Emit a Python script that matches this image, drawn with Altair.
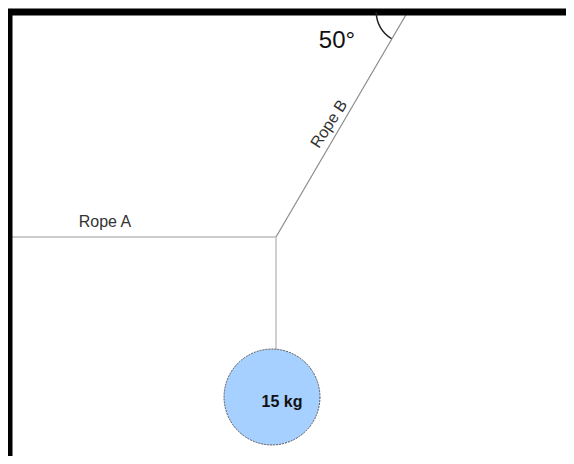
import altair as alt
import pandas as pd

# Diagram geometry (in picture pixel coordinates)
wall_top = {"x": [8], "x2": [566], "y": [12]}
wall_left = {"x": [9], "y": [12], "y2": [456]}
ropes = {
    "name": ["Rope A", "Rope B", "Hanger"],
    "x": [10, 276, 276],
    "y": [237, 237, 237],
    "x2": [276, 407, 276],
    "y2": [237, 13, 350],
}
rope_colors = ["#9a9a9a", "#8a8a8a", "#cfcfcf"]
rope_widths = [1.2, 1.2, 2]
mass_x = [272]
mass_y = [397]
mass_label = ["15 kg"]
labels = {"text": ["Rope A", "Rope B"], "x": [105, 329], "y": [222, 124], "angle": [0, 303]}
angle_text = {"text": ["50°"], "x": [337], "y": [41]}
angle_arc = {"x": [407], "y": [12], "t1": [3.67], "t2": [4.712]}

W, H = 558, 448
xs = alt.Scale(domain=[8, 8 + W], range=[0, W], nice=False, zero=False)
ys = alt.Scale(domain=[8, 8 + H], range=[0, H], nice=False, zero=False)

def X(f="x"):
    return alt.X(f"{f}:Q", scale=xs, axis=None)

def Y(f="y"):
    return alt.Y(f"{f}:Q", scale=ys, axis=None)

top = alt.Chart(pd.DataFrame(wall_top)).mark_rule(color="black", strokeWidth=7).encode(
    x=X(), x2="x2:Q", y=Y())
left = alt.Chart(pd.DataFrame(wall_left)).mark_rule(color="black", strokeWidth=7).encode(
    x=X(), y=Y(), y2="y2:Q")

rdf = pd.DataFrame(ropes)
rope_layers = []
for i in range(len(rdf)):
    rope_layers.append(
        alt.Chart(rdf.iloc[[i]]).mark_rule(color=rope_colors[i], strokeWidth=rope_widths[i]).encode(
            x=X(), y=Y(), x2="x2:Q", y2="y2:Q")
    )

mass = alt.Chart(pd.DataFrame({"x": mass_x, "y": mass_y})).mark_point(
    shape="circle", size=9200, filled=True, fill="#a6d0ff", fillOpacity=1,
    stroke="#555555", strokeWidth=1, strokeDash=[2, 1]).encode(x=X(), y=Y())

mass_text = alt.Chart(pd.DataFrame({"x": [282], "y": [402], "t": mass_label})).mark_text(
    font="Liberation Sans", fontSize=16, fontWeight="bold", color="#111111",
    align="center", baseline="middle").encode(x=X(), y=Y(), text="t:N")

ldf = pd.DataFrame(labels)
label_layers = []
for i in range(len(ldf)):
    label_layers.append(
        alt.Chart(ldf.iloc[[i]]).mark_text(
            font="Liberation Sans", fontSize=16, color="#333333", align="center",
            baseline="middle", angle=int(ldf["angle"][i])).encode(x=X(), y=Y(), text="text:N")
    )

ang = alt.Chart(pd.DataFrame(angle_text)).mark_text(
    font="Liberation Sans", fontSize=24, color="#111111", align="center",
    baseline="middle").encode(x=X(), y=Y(), text="text:N")

arc = alt.Chart(pd.DataFrame(angle_arc)).mark_arc(
    radius=31.5, radius2=30, color="#222222",
    theta=angle_arc["t1"][0], theta2=angle_arc["t2"][0]).encode(x=X(), y=Y())

chart = alt.layer(
    *rope_layers, top, left, arc, mass, mass_text, *label_layers, ang
).properties(width=W, height=H, padding=0, autosize="none").configure_view(stroke=None)

chart.save("out.html", embed_options={"renderer": "svg", "actions": False})
